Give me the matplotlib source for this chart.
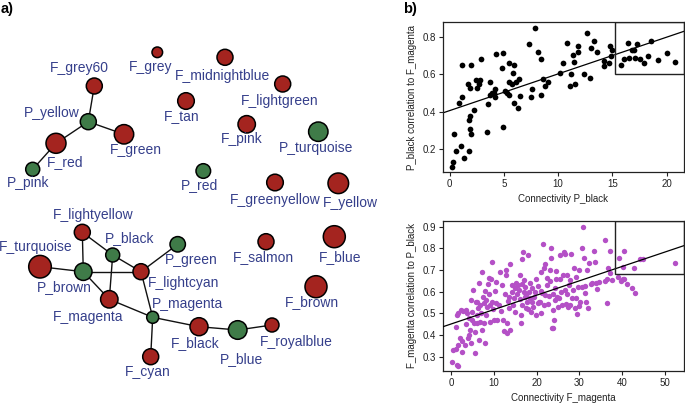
import matplotlib
matplotlib.use("Agg")
import matplotlib.pyplot as plt
from matplotlib.patches import Circle, Rectangle
import numpy as np

plt.rcParams['font.family'] = ['Liberation Sans', 'DejaVu Sans']

# ---------------- network data (panel a) ----------------
node_names = ["F_grey60", "P_yellow", "F_green", "F_red", "P_pink", "F_grey",
              "F_midnightblue", "F_lightgreen", "F_tan", "F_pink", "P_turquoise",
              "P_red", "F_greenyellow", "F_yellow", "F_lightyellow", "P_black",
              "P_green", "F_turquoise", "P_brown", "F_lightcyan", "F_magenta",
              "P_magenta", "F_black", "P_blue", "F_royalblue", "F_cyan",
              "F_salmon", "F_blue", "F_brown"]
node_x = [94.3, 88.3, 124, 56, 32.7, 157.3, 225, 282.7, 186, 246.7, 318.3,
          203.3, 275, 338.3, 82.3, 112.7, 177.7, 40, 83.3, 141, 109.3,
          152.7, 199, 237.7, 272, 150.7, 266, 334.3, 316]
node_y = [86, 121.7, 134.3, 143.3, 169.3, 52.3, 57.3, 84, 101, 124.3, 131.7,
          171, 182.5, 183.3, 232.3, 255, 244.3, 266.7, 271.7, 271.7, 299.3,
          317.3, 326.7, 330, 325, 356.7, 241.7, 236.7, 286.7]
node_size = [8, 8, 9.7, 10, 7, 5.3, 8, 8, 8.3, 8.7, 9.7,
             7.3, 8.3, 10.3, 8, 7, 7.7, 11.3, 8.7, 8, 8.7,
             6, 9, 9.3, 7, 8, 8, 11, 11]
label_x = [79, 51.7, 136, 65, 28.3, 150.7, 222.7, 280, 181.7, 241.7, 316,
           199.3, 275, 350.7, 92.7, 129.3, 191.7, 36, 64, 184, 88.3,
           187.3, 195, 241.7, 296.7, 147.3, 263.3, 340, 311.7]
label_y = [68.3, 113.3, 150, 161.7, 183.3, 66.7, 76, 101, 116, 139.3, 148.3,
           185, 200, 202.7, 215, 238.3, 260, 246.7, 287.3, 283.3, 316.7,
           304.3, 342.7, 359.3, 342, 371.7, 257.3, 256.7, 302.3]
edges = [("F_grey60", "P_yellow"), ("P_yellow", "F_green"), ("P_yellow", "F_red"),
         ("F_red", "P_pink"), ("F_lightyellow", "P_black"), ("F_lightyellow", "P_brown"),
         ("F_turquoise", "P_brown"), ("P_brown", "F_lightcyan"), ("P_brown", "F_magenta"),
         ("P_black", "F_lightcyan"), ("P_black", "F_magenta"), ("P_green", "F_lightcyan"),
         ("F_lightcyan", "P_magenta"), ("F_magenta", "P_magenta"), ("P_magenta", "F_black"),
         ("P_magenta", "F_cyan"), ("F_black", "P_blue"), ("P_blue", "F_royalblue")]

# ---------------- scatter data (panel b, top) ----------------
pblack_conn = [0.2, 0.3, 0.4, 0.6, 1.0, 0.86, 1.1, 1.1, 1.3, 1.75, 1.75, 1.9, 1.9, 2.0,
               2.0, 1.7, 1.9, 2.2, 2.4, 2.55, 2.7, 2.8, 2.9, 3.4, 3.5, 3.75, 3.7, 3.9,
               4.15, 4.2, 4.3, 4.1, 4.8, 4.9, 4.9, 5.1, 5.3, 5.45, 5.5, 5.5, 5.75, 5.9,
               5.85, 5.9, 6.15, 6.3, 6.35, 6.45, 7.3, 7.45, 7.55, 7.9, 8.1, 8.4, 8.4,
               8.6, 8.75, 9.1, 10.2, 10.4, 10.85, 11.1, 11.2, 11.4, 11.5, 11.55, 11.8,
               11.8, 12.35, 12.65, 12.9, 13.0, 13.3, 13.6, 14.25, 14.25, 14.8, 14.7,
               14.9, 15.0, 15.8, 16.1, 16.4, 16.5, 16.8, 17.0, 17.1, 17.3, 17.5, 17.9,
               18.3, 18.6, 19.2, 20.0, 20.8]
pblack_corr = [0.106, 0.133, 0.28, 0.19, 0.218, 0.45, 0.48, 0.65, 0.154, 0.19, 0.355,
               0.31, 0.38, 0.28, 0.65, 0.55, 0.53, 0.41, 0.57, 0.53, 0.55, 0.57, 0.68,
               0.29, 0.44, 0.56, 0.49, 0.50, 0.52, 0.48, 0.71, 0.50, 0.636, 0.716, 0.32,
               0.51, 0.50, 0.66, 0.56, 0.49, 0.55, 0.65, 0.61, 0.45, 0.56, 0.42, 0.575,
               0.485, 0.76, 0.48, 0.52, 0.85, 0.72, 0.68, 0.49, 0.575, 0.54, 0.56, 0.61,
               0.66, 0.77, 0.54, 0.60, 0.705, 0.666, 0.548, 0.75, 0.72, 0.60, 0.82, 0.58,
               0.74, 0.78, 0.72, 0.67, 0.645, 0.75, 0.66, 0.70, 0.73, 0.65, 0.68, 0.77,
               0.69, 0.73, 0.73, 0.69, 0.76, 0.68, 0.66, 0.70, 0.78, 0.675, 0.715, 0.665]
top_fit = (0.407, 0.0196)      # intercept, slope
top_box = (15.25, 0.6)         # lower-left corner of highlighted region

# ---------------- scatter data (panel b, bottom) ----------------
fmag_conn = [0.15, 0.4, 1.3, 1.6, 1.0, 1.2, 1.3, 1.6, 1.6, 2.1, 2.3, 2.6, 2.6, 2.7, 3.1,
             3.4, 3.5, 3.75, 3.9, 4.1, 4.1, 4.3, 4.5, 4.7, 4.8, 4.9,
             5.1, 5.2, 5.5, 5.5, 5.7, 5.9, 6.0, 6.1, 6.25, 6.5, 6.5, 6.6, 6.8, 7.0, 7.3,
             7.3, 7.4, 7.6, 7.7, 7.8, 8.0, 8.2, 8.2, 8.4, 8.6, 8.75, 8.8, 9.0, 9.1, 9.4,
             9.5, 9.6, 9.8, 9.9,
             10.2, 10.4, 10.5, 10.8, 11.2, 11.5, 11.6, 11.95, 12.1, 12.3, 12.5, 12.7,
             12.9, 13.0, 13.1, 13.3, 13.4, 13.5, 13.7, 13.8, 14.1, 14.3, 14.45, 14.6,
             14.8, 15.0, 15.2, 15.4, 15.6, 15.8, 16.0, 16.2, 16.25, 16.4, 16.5, 16.6,
             16.6, 16.8, 16.95, 17.0, 17.2, 17.3, 17.4, 17.6, 17.7, 17.97, 17.97, 18.1,
             18.4, 18.5, 18.75, 18.9, 19.0, 19.1, 19.3, 19.5, 19.8, 19.9,
             20.2, 20.3, 20.5, 20.7, 20.9, 20.9, 21.1, 21.25, 21.5, 21.6, 21.7, 21.9,
             22.0, 22.3, 22.4, 22.7, 22.8, 23.0, 23.2, 23.3, 23.4, 23.5, 23.7, 23.8,
             23.9, 24.1, 24.2, 24.4, 24.45, 24.6, 24.8, 25.0, 25.2, 25.4, 25.5, 25.8,
             26.0, 26.2, 26.3, 26.6, 26.7, 26.95, 27.1, 27.2, 27.3, 27.5, 27.7, 27.9,
             28.1, 28.3, 28.5, 28.7, 28.9, 29.1, 29.3, 29.45, 29.6, 29.8, 29.9,
             30.2, 30.5, 30.7, 30.9, 31.1, 31.25, 31.4, 31.6, 31.8, 32.0, 32.3, 32.6,
             33.0, 33.4, 33.6, 33.8, 34.1, 34.6,
             35.9, 37.2, 40.4, 39.2, 36.6, 37.2, 36.1, 36.4, 37.7, 39.1, 39.8, 40.2,
             40.5, 41.1, 42.3, 43.0, 36.4, 40.3, 42.7, 44.1, 44.8, 52.5]
fmag_corr = [0.274, 0.329, 0.262, 0.256, 0.335, 0.438, 0.49, 0.50, 0.354, 0.385, 0.515,
             0.37, 0.323, 0.51, 0.354, 0.449, 0.515, 0.50, 0.385, 0.48, 0.40, 0.423,
             0.56, 0.362, 0.469, 0.508,
             0.608, 0.454, 0.315, 0.415, 0.554, 0.492, 0.454, 0.554, 0.523, 0.638,
             0.377, 0.462, 0.538, 0.50, 0.692, 0.423, 0.577, 0.454, 0.546, 0.603,
             0.362, 0.562, 0.492, 0.531, 0.634, 0.662, 0.588, 0.462, 0.538, 0.658,
             0.735, 0.55, 0.52, 0.469,
             0.603, 0.646, 0.546, 0.469, 0.538, 0.689, 0.511, 0.631, 0.469, 0.418,
             0.588, 0.677, 0.70, 0.454, 0.408, 0.557, 0.577, 0.523, 0.423, 0.726,
             0.631, 0.597, 0.538, 0.569, 0.615, 0.508, 0.638, 0.588, 0.631, 0.608,
             0.677, 0.566, 0.492, 0.454, 0.751, 0.634, 0.538, 0.782, 0.654, 0.60,
             0.577, 0.623, 0.526, 0.585, 0.554, 0.769, 0.52, 0.60, 0.638, 0.569, 0.508,
             0.615, 0.55, 0.531, 0.577, 0.60, 0.658, 0.492,
             0.546, 0.627, 0.554, 0.554, 0.692, 0.50, 0.603, 0.592, 0.818, 0.711,
             0.538, 0.726, 0.585, 0.665, 0.631, 0.542, 0.581, 0.649, 0.70, 0.80, 0.757,
             0.431, 0.515, 0.588, 0.434, 0.469, 0.562, 0.618, 0.658, 0.695, 0.577,
             0.531, 0.569, 0.769, 0.658, 0.60, 0.538, 0.677, 0.782, 0.608, 0.772,
             0.542, 0.677, 0.588, 0.531, 0.631, 0.654, 0.538, 0.772, 0.569, 0.608,
             0.708, 0.523, 0.669, 0.569, 0.495, 0.623, 0.70, 0.535,
             0.55, 0.623, 0.803, 0.90, 0.757, 0.592, 0.628, 0.554, 0.70, 0.526, 0.731,
             0.634, 0.638, 0.788, 0.738, 0.638, 0.612, 0.646,
             0.838, 0.788, 0.789, 0.757, 0.708, 0.688, 0.649, 0.657, 0.652, 0.669,
             0.649, 0.66, 0.657, 0.634, 0.618, 0.595, 0.549, 0.715, 0.711, 0.749,
             0.752, 0.734]
bottom_fit = (0.451, 0.00663)
bottom_box = (38.4, 0.68)

# ---------------- figure ----------------
W, H = 685, 404
fig = plt.figure(figsize=(W / 100, H / 100), dpi=100)

RED = '#a4241f'
GREEN = '#3f7b48'
LABEL = '#353f8b'

axn = fig.add_axes([0, 0, 420 / W, 1])
axn.set_xlim(0, 420)
axn.set_ylim(H, 0)
axn.axis('off')
idx = {n: i for i, n in enumerate(node_names)}
for a, b in edges:
    i, j = idx[a], idx[b]
    axn.plot([node_x[i], node_x[j]], [node_y[i], node_y[j]], color='#111111', lw=1.0, zorder=1)
for i, n in enumerate(node_names):
    col = RED if n.startswith('F_') else GREEN
    axn.add_patch(Circle((node_x[i], node_y[i]), node_size[i], facecolor=col,
                         edgecolor='black', lw=1.1, zorder=2))
    axn.text(label_x[i], label_y[i], n, ha='center', va='center', fontsize=10,
             color=LABEL, zorder=3)

fig.text(1 / W, 1 - 9 / H, 'a)', fontsize=10.5, fontweight='bold', ha='left', va='center')
fig.text(403 / W, 1 - 9 / H, 'b)', fontsize=10.5, fontweight='bold', ha='left', va='center')

def style(ax):
    for s in ax.spines.values():
        s.set_linewidth(0.9)
        s.set_color('#222222')
    ax.tick_params(direction='out', length=3, width=0.8, labelsize=7, colors='#222222',
                   pad=2)

# top scatter
ax1 = fig.add_axes([443 / W, 1 - 172 / H, 241 / W, 150 / H])
ax1.set_xlim(-0.62, 21.6)
ax1.set_ylim(0.079, 0.88)
ax1.scatter(pblack_conn, pblack_corr, s=17, color='black', linewidths=0, zorder=3)
xs = np.array(ax1.get_xlim())
ax1.plot(xs, top_fit[0] + top_fit[1] * xs, color='black', lw=0.9, zorder=2)
x0, y0 = top_box
ax1.add_patch(Rectangle((x0, y0), xs[1] - x0, ax1.get_ylim()[1] - y0, fill=False,
                        edgecolor='#222222', lw=1.0, zorder=4))
ax1.set_xticks([0, 5, 10, 15, 20])
ax1.set_yticks([0.2, 0.4, 0.6, 0.8])
ax1.set_yticklabels(['0.2', '0.4', '0.6', '0.8'])
ax1.set_xlabel('Connectivity P_black', fontsize=7, color='#222222', labelpad=4)
ax1.set_ylabel('P_black correlation to F_magenta', fontsize=7, color='#222222', labelpad=4)
style(ax1)

# bottom scatter
ax2 = fig.add_axes([443 / W, 1 - 370.7 / H, 241 / W, 149.7 / H])
ax2.set_xlim(-1.95, 54.5)
ax2.set_ylim(0.235, 0.926)
ax2.scatter(fmag_conn, fmag_corr, s=15, color='#b450c6', linewidths=0, zorder=3)
xs2 = np.array(ax2.get_xlim())
ax2.plot(xs2, bottom_fit[0] + bottom_fit[1] * xs2, color='black', lw=0.9, zorder=4)
x0, y0 = bottom_box
ax2.add_patch(Rectangle((x0, y0), xs2[1] - x0, ax2.get_ylim()[1] - y0, fill=False,
                        edgecolor='#222222', lw=1.0, zorder=5))
ax2.set_xticks([0, 10, 20, 30, 40, 50])
ax2.set_yticks([0.3, 0.4, 0.5, 0.6, 0.7, 0.8, 0.9])
ax2.set_yticklabels(['0.3', '0.4', '0.5', '0.6', '0.7', '0.8', '0.9'])
ax2.set_xlabel('Connectivity F_magenta', fontsize=7, color='#222222', labelpad=4)
ax2.set_ylabel('F_magenta correlation to P_black', fontsize=7, color='#222222', labelpad=4)
style(ax2)

fig.savefig('out.png', dpi=100)
